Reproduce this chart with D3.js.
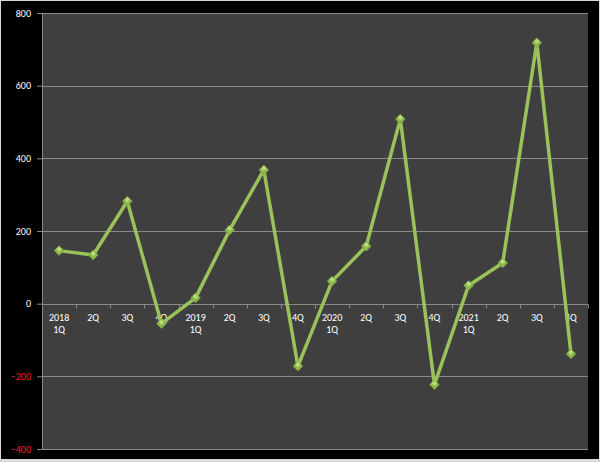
<!DOCTYPE html>
<html>
<head>
<meta charset="utf-8">
<script src="https://cdn.jsdelivr.net/npm/d3@7"></script>
<style>
  body { margin: 0; background: #fff; }
  svg { display: block; font-family: Calibri, Carlito, "Open Sans", sans-serif; }
</style>
</head>
<body>
<div id="chart"></div>
<script>
const years = ['2018', '', '', '', '2019', '', '', '', '2020', '', '', '', '2021', '', '', '']
const quarters = ['1Q', '2Q', '3Q', '4Q', '1Q', '2Q', '3Q', '4Q', '1Q', '2Q', '3Q', '4Q', '1Q', '2Q', '3Q', '4Q']
const values = [146, 134, 282, -55, 16, 203, 368, -172, 62, 158, 508, -223, 50, 112, 718, -138]
const yTicks = [-400, -200, 0, 200, 400, 600, 800]

const width = 600
const height = 462
const margin = { top: 13, right: 12, bottom: 13, left: 42 }

const svg = d3.select('#chart').append('svg')
  .attr('width', width)
  .attr('height', height)

// outer frame
svg.append('rect')
  .attr('x', 0).attr('y', 0)
  .attr('width', width).attr('height', height)
  .attr('fill', '#000')
svg.append('rect')
  .attr('x', 0.5).attr('y', 0.5)
  .attr('width', width - 1).attr('height', height - 2)
  .attr('fill', 'none')
  .attr('stroke', '#d8d8d8')
  .attr('stroke-width', 1)
svg.append('line')
  .attr('x1', 0).attr('x2', width)
  .attr('y1', height - 1.5).attr('y2', height - 1.5)
  .attr('stroke', '#d8d8d8').attr('stroke-width', 3)

const idx = values.map((d, i) => i)

const x = d3.scaleBand()
  .domain(idx)
  .range([margin.left, width - margin.right])

const y = d3.scaleLinear()
  .domain([-400, 800])
  .range([height - margin.bottom, margin.top])

// plot area
svg.append('rect')
  .attr('x', margin.left)
  .attr('y', margin.top)
  .attr('width', width - margin.left - margin.right)
  .attr('height', height - margin.top - margin.bottom)
  .attr('fill', '#3f3f3f')

// gridlines
svg.append('g')
  .selectAll('line')
  .data(yTicks)
  .enter().append('line')
  .attr('x1', margin.left)
  .attr('x2', width - margin.right)
  .attr('y1', d => Math.round(y(d)) + 0.5)
  .attr('y2', d => Math.round(y(d)) + 0.5)
  .attr('stroke', '#8a8a8a')
  .attr('stroke-width', 1)

// left axis
const yAxis = svg.append('g')
  .attr('transform', `translate(${margin.left},0)`)
  .call(d3.axisLeft(y).tickValues(yTicks).tickSize(5).tickPadding(6).tickFormat(d3.format('d')))
yAxis.select('.domain').attr('stroke', '#8a8a8a')
yAxis.selectAll('.tick line').attr('stroke', '#8a8a8a')
yAxis.selectAll('.tick text')
  .attr('fill', d => d < 0 ? '#ff1a1a' : '#ffffff')
  .attr('font-size', 10)
  .style('font-family', 'Calibri, Carlito, "Open Sans", sans-serif')

// category axis at zero
const y0 = Math.round(y(0)) + 0.5
const xg = svg.append('g')
xg.append('line')
  .attr('x1', margin.left).attr('x2', width - margin.right)
  .attr('y1', y0).attr('y2', y0)
  .attr('stroke', '#8a8a8a')
xg.selectAll('.tk')
  .data(idx.concat([idx.length]))
  .enter().append('line')
  .attr('class', 'tk')
  .attr('x1', d => Math.round(margin.left + d * x.bandwidth()) + 0.5)
  .attr('x2', d => Math.round(margin.left + d * x.bandwidth()) + 0.5)
  .attr('y1', y0).attr('y2', y0 + 4)
  .attr('stroke', '#8a8a8a')

const labels = xg.selectAll('.lbl')
  .data(idx)
  .enter().append('text')
  .attr('class', 'lbl')
  .attr('text-anchor', 'middle')
  .attr('fill', '#ffffff')
  .attr('font-size', 10)
  .attr('x', d => x(d) + x.bandwidth() / 2)
  .attr('y', y0 + 16)
labels.filter(d => years[d] !== '')
  .each(function (d) {
    const t = d3.select(this)
    t.append('tspan').attr('x', x(d) + x.bandwidth() / 2).text(years[d])
    t.append('tspan').attr('x', x(d) + x.bandwidth() / 2).attr('dy', 12.5).text(quarters[d])
  })
labels.filter(d => years[d] === '').text(d => quarters[d])

// series line
const line = d3.line()
  .x((d, i) => x(i) + x.bandwidth() / 2)
  .y(d => y(d))

svg.append('path')
  .datum(values)
  .attr('fill', 'none')
  .attr('stroke', '#9bc25a')
  .attr('stroke-width', 3.5)
  .attr('stroke-linejoin', 'round')
  .attr('d', line)

// diamond markers
const diamond = d3.symbol().type(d3.symbolDiamond2).size(60)
const mk = svg.append('g')
  .selectAll('g')
  .data(values)
  .enter().append('g')
  .attr('transform', (d, i) => `translate(${x(i) + x.bandwidth() / 2},${y(d)})`)
mk.append('path')
  .attr('d', diamond)
  .attr('fill', '#8fb84c')
  .attr('stroke', '#7aa23a')
  .attr('stroke-width', 0.8)
mk.append('path')
  .attr('d', d3.symbol().type(d3.symbolDiamond2).size(18))
  .attr('transform', 'translate(0,-1.5)')
  .attr('fill', '#b9dc7c')
</script>
</body>
</html>
